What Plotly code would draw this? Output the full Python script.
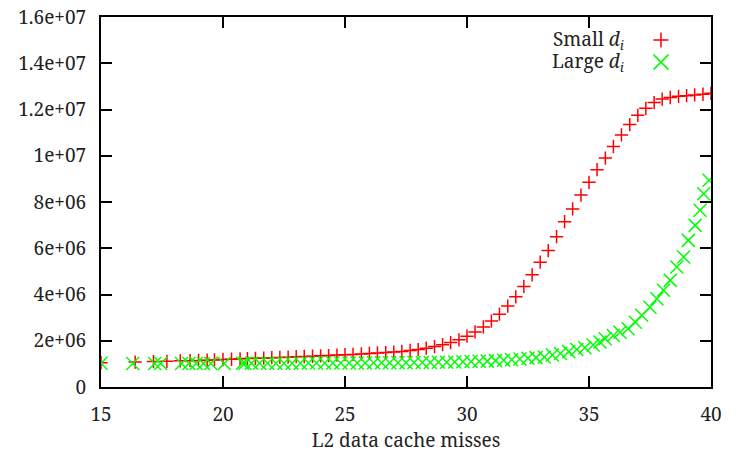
import plotly.graph_objects as go

# Small d_i series
small_x = [15.0, 16.4, 17.15, 17.7, 18.25, 18.65, 19.0, 19.35, 19.65, 20.0, 20.35, 20.7,
           21.0, 21.33, 21.67, 22.0, 22.33, 22.67, 23.0, 23.33, 23.67, 24.0, 24.33, 24.67,
           25.0, 25.33, 25.67, 26.0, 26.33, 26.67, 27.0, 27.33, 27.67, 28.0, 28.33, 28.67,
           29.0, 29.33, 29.67, 30.0, 30.33, 30.67, 31.0, 31.33, 31.67, 32.0, 32.33, 32.67,
           33.0, 33.33, 33.67, 34.0, 34.33, 34.67, 35.0, 35.33, 35.67, 36.0, 36.33, 36.67,
           37.0, 37.33, 37.67, 38.0, 38.33, 38.67, 39.0, 39.33, 39.67, 40.0]
small_y = [1.05e6, 1.08e6, 1.10e6, 1.11e6, 1.13e6, 1.14e6, 1.15e6, 1.16e6, 1.17e6, 1.19e6, 1.20e6, 1.22e6,
           1.23e6, 1.24e6, 1.25e6, 1.27e6, 1.28e6, 1.29e6, 1.31e6, 1.32e6, 1.33e6, 1.35e6, 1.36e6, 1.38e6,
           1.40e6, 1.41e6, 1.43e6, 1.45e6, 1.47e6, 1.49e6, 1.51e6, 1.54e6, 1.58e6, 1.62e6, 1.68e6, 1.75e6,
           1.83e6, 1.92e6, 2.04e6, 2.20e6, 2.38e6, 2.60e6, 2.85e6, 3.15e6, 3.50e6, 3.90e6, 4.35e6, 4.85e6,
           5.40e6, 5.90e6, 6.50e6, 7.15e6, 7.70e6, 8.30e6, 8.85e6, 9.40e6, 9.90e6, 10.40e6, 10.90e6, 11.35e6,
           11.75e6, 12.05e6, 12.30e6, 12.45e6, 12.52e6, 12.57e6, 12.60e6, 12.63e6, 12.66e6, 12.70e6]

# Large d_i series
large_x = [15.0, 16.3, 17.2, 17.45, 18.3, 18.6, 18.9, 19.2, 19.5, 20.05, 20.8, 20.9,
           21.17, 21.5, 21.83, 22.17, 22.5, 22.83, 23.17, 23.5, 23.83, 24.17, 24.5, 24.83,
           25.17, 25.5, 25.83, 26.17, 26.5, 26.83, 27.17, 27.5, 27.83, 28.17, 28.5, 28.83,
           29.17, 29.5, 29.83, 30.17, 30.5, 30.83, 31.17, 31.5, 31.83, 32.17, 32.5, 32.83,
           33.17, 33.5, 33.83, 34.17, 34.5, 34.83, 35.17, 35.45, 35.66, 36.0, 36.27, 36.6,
           36.9, 37.16, 37.5, 37.78, 38.05, 38.33, 38.6, 38.88, 39.07, 39.35, 39.55, 39.7,
           39.92]
large_y = [1.03e6, 1.02e6, 1.02e6, 1.02e6, 1.02e6, 1.02e6, 1.02e6, 1.02e6, 1.02e6, 1.02e6, 1.03e6, 1.03e6,
           1.03e6, 1.03e6, 1.03e6, 1.03e6, 1.03e6, 1.03e6, 1.03e6, 1.04e6, 1.04e6, 1.04e6, 1.04e6, 1.04e6,
           1.04e6, 1.04e6, 1.04e6, 1.05e6, 1.05e6, 1.05e6, 1.05e6, 1.05e6, 1.06e6, 1.06e6, 1.06e6, 1.07e6,
           1.07e6, 1.08e6, 1.09e6, 1.10e6, 1.11e6, 1.12e6, 1.14e6, 1.16e6, 1.18e6, 1.21e6, 1.24e6, 1.27e6,
           1.30e6, 1.38e6, 1.45e6, 1.53e6, 1.62e6, 1.70e6, 1.82e6, 1.95e6, 2.09e6, 2.23e6, 2.37e6, 2.52e6,
           2.80e6, 3.10e6, 3.45e6, 3.82e6, 4.18e6, 4.61e6, 5.19e6, 5.62e6, 6.34e6, 6.99e6, 7.64e6, 8.36e6,
           8.94e6]

x_ticks = [15, 20, 25, 30, 35, 40]
y_ticks = [0, 2e6, 4e6, 6e6, 8e6, 1e7, 1.2e7, 1.4e7, 1.6e7]
y_tick_text = ["0", "2e+06", "4e+06", "6e+06", "8e+06", "1e+07", "1.2e+07", "1.4e+07", "1.6e+07"]

series_names = ["Small <i>d<sub>i</sub></i>", "Large <i>d<sub>i</sub></i>"]
RED = "#ff0000"
GREEN = "#00ff00"
FONT = "Noto Serif"
TEXT = "#222222"
FONT_SIZE = 19

fig = go.Figure()
fig.add_trace(go.Scatter(
    x=small_x, y=small_y, mode="markers", name=series_names[0],
    marker=dict(symbol="cross-thin", size=9.5, line=dict(color=RED, width=1.5)),
    showlegend=False))
fig.add_trace(go.Scatter(
    x=large_x, y=large_y, mode="markers", name=series_names[1],
    marker=dict(symbol="x-thin", size=13, line=dict(color=GREEN, width=1.5)),
    showlegend=False))

axis_common = dict(
    showline=True, linecolor="black", linewidth=2, mirror="ticks",
    ticks="inside", ticklen=11, tickwidth=2, tickcolor="black",
    showgrid=False, zeroline=False, automargin=False,
    tickfont=dict(family=FONT, size=FONT_SIZE, color=TEXT),
)

fig.update_xaxes(range=[15, 40], tickvals=x_ticks, ticklabelstandoff=9,
                 title=dict(text="L2 data cache misses", standoff=12,
                            font=dict(family=FONT, size=FONT_SIZE, color=TEXT)),
                 **axis_common)
fig.update_yaxes(range=[0, 1.6e7], tickvals=y_ticks, ticktext=y_tick_text,
                 ticklabelstandoff=9, **axis_common)

# gnuplot-style key: label text on the left, sample symbol on the right
key_rows = [0.938, 0.878]
for name, yk in zip(series_names, key_rows):
    fig.add_annotation(x=0.861, y=yk, xref="paper", yref="paper", text=name,
                       showarrow=False, xanchor="right", yanchor="middle",
                       font=dict(family=FONT, size=FONT_SIZE, color=TEXT))

kx, hw = 0.918, 7.5 / 610
hh = 7.5 / 369.5
fig.add_shape(type="path", xref="paper", yref="paper",
              path=f"M{kx - hw},{key_rows[0]} L{kx + hw},{key_rows[0]} "
                   f"M{kx},{key_rows[0] - hh} L{kx},{key_rows[0] + hh}",
              line=dict(color=RED, width=1.5))
fig.add_shape(type="path", xref="paper", yref="paper",
              path=f"M{kx - hw},{key_rows[1] - hh} L{kx + hw},{key_rows[1] + hh} "
                   f"M{kx - hw},{key_rows[1] + hh} L{kx + hw},{key_rows[1] - hh}",
              line=dict(color=GREEN, width=1.5))

fig.update_layout(
    width=741, height=453,
    margin=dict(l=101, r=30, t=17, b=66),
    paper_bgcolor="white", plot_bgcolor="white",
    font=dict(family=FONT, size=FONT_SIZE, color=TEXT),
)

fig.write_html("out.html")
